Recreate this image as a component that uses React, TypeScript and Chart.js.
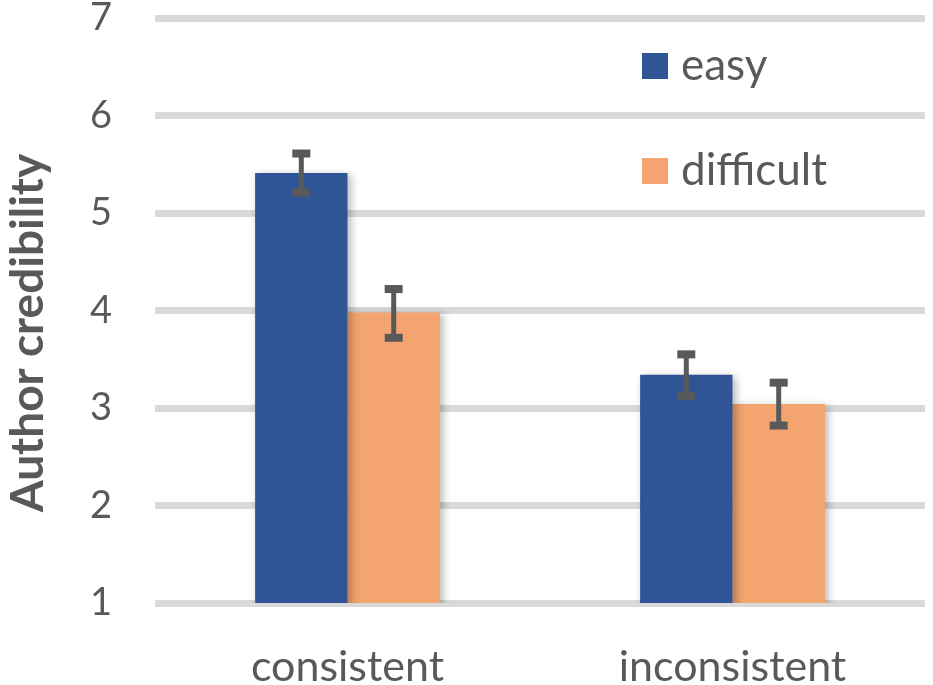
import { useEffect, useRef } from "react";
import { Chart, registerables } from "chart.js";

Chart.register(...registerables);

// values
const categories = ["consistent", "inconsistent"];
const seriesNames = ["easy", "difficult"];
const easyMeans = [5.41, 3.34];
const difficultMeans = [3.98, 3.04];
const easyLow = [5.21, 3.12];
const easyHigh = [5.61, 3.55];
const difficultLow = [3.72, 2.82];
const difficultHigh = [4.22, 3.26];
const yTicks = [1, 2, 3, 4, 5, 6, 7];
const yTitle = "Author credibility";

const TEXT = "#595959";
const FONT = "Lato, 'Noto Sans', sans-serif";
const colors = ["#2F5597", "#F3A46F"];

const shadowPlugin = {
  id: "barShadow",
  beforeDatasetsDraw(chart: any) {
    const c = chart.ctx;
    c.save();
    c.shadowColor = "rgba(0,0,0,0.28)";
    c.shadowBlur = 8;
    c.shadowOffsetX = 3;
    c.shadowOffsetY = 2;
  },
  afterDatasetsDraw(chart: any) {
    chart.ctx.restore();
  },
};

const errorBarPlugin = {
  id: "errorBars",
  afterDatasetsDraw(chart: any) {
    const c = chart.ctx;
    const y = chart.scales.y;
    const lows = [easyLow, difficultLow];
    const highs = [easyHigh, difficultHigh];
    c.save();
    c.strokeStyle = TEXT;
    c.fillStyle = TEXT;
    chart.data.datasets.forEach((_: any, di: number) => {
      const meta = chart.getDatasetMeta(di);
      meta.data.forEach((bar: any, i: number) => {
        const yl = y.getPixelForValue(lows[di][i]);
        const yh = y.getPixelForValue(highs[di][i]);
        c.lineWidth = 5;
        c.beginPath();
        c.moveTo(bar.x, yl);
        c.lineTo(bar.x, yh);
        c.stroke();
        c.fillRect(bar.x - 9, yh - 4, 18, 8);
        c.fillRect(bar.x - 9, yl - 4, 18, 8);
      });
    });
    c.restore();
  },
};

const labelsPlugin = {
  id: "extraLabels",
  afterDraw(chart: any) {
    const c = chart.ctx;
    c.save();
    // legend
    c.font = `44px ${FONT}`;
    c.textBaseline = "middle";
    c.textAlign = "left";
    seriesNames.forEach((name, i) => {
      const top = 53 + i * 105;
      c.fillStyle = colors[i];
      c.fillRect(642, top, 26, 26);
      c.fillStyle = TEXT;
      c.fillText(name, 681, top + 13);
    });
    // y title
    c.translate(28, 333);
    c.rotate(-Math.PI / 2);
    c.font = `bold 46px ${FONT}`;
    c.textAlign = "center";
    c.fillText(yTitle, 0, 0);
    c.restore();
  },
};

export default function App() {
  const canvasRef = useRef<HTMLCanvasElement>(null);

  useEffect(() => {
    if (!canvasRef.current) return;
    const chart = new Chart(canvasRef.current, {
      type: "bar",
      data: {
        labels: categories,
        datasets: [
          { label: seriesNames[0], data: easyMeans, backgroundColor: colors[0] },
          { label: seriesNames[1], data: difficultMeans, backgroundColor: colors[1] },
        ],
      },
      options: {
        responsive: true,
        maintainAspectRatio: false,
        animation: false,
        layout: { padding: { top: 18, right: 8, left: 0, bottom: 0 } },
        datasets: { bar: { barPercentage: 1, categoryPercentage: 0.48 } },
        plugins: { legend: { display: false }, tooltip: { enabled: false } },
        scales: {
          x: {
            grid: { display: false, drawTicks: false },
            border: { display: false },
            ticks: { color: TEXT, font: { family: FONT, size: 43 }, padding: 38 },
            afterFit(s: any) {
              s.height = 82;
              s.paddingLeft = 0;
              s.paddingRight = 0;
            },
          },
          y: {
            min: 1,
            max: 7,
            afterBuildTicks(s: any) {
              s.ticks = yTicks.map((v) => ({ value: v }));
            },
            grid: { color: "#D9D9D9", lineWidth: 7, drawTicks: false },
            border: { display: false },
            ticks: { color: TEXT, font: { family: FONT, size: 38 }, padding: 43 },
            afterFit(s: any) {
              s.width = 155;
              s.paddingTop = 0;
              s.paddingBottom = 0;
            },
          },
        },
      },
      plugins: [shadowPlugin, errorBarPlugin, labelsPlugin],
    });
    return () => chart.destroy();
  }, []);

  return (
    <div style={{ position: "fixed", left: 0, top: 0, width: 933, height: 685, background: "#fff" }}>
      <canvas ref={canvasRef} />
    </div>
  );
}
